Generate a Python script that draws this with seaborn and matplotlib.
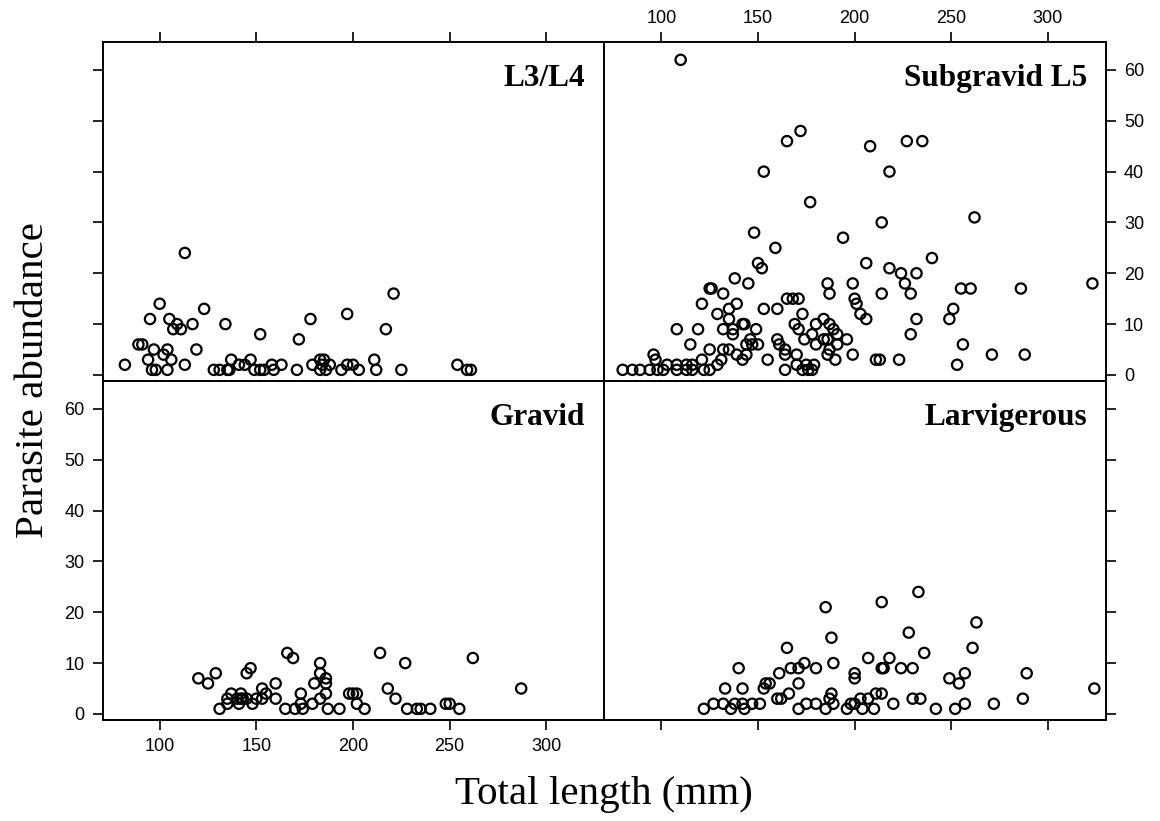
import matplotlib
matplotlib.use("Agg")
import matplotlib.pyplot as plt
import seaborn as sns
import pandas as pd

# ---------------- data ----------------
panels = ["L3/L4", "Subgravid L5", "Gravid", "Larvigerous"]

l34_length = [82, 113, 100, 95, 105, 109, 107, 111, 117, 123, 134, 152, 172, 178, 197, 89, 91, 97, 104, 102,
              119, 94, 106, 113, 96, 98, 104, 128, 131, 135, 136, 137, 141, 144, 147, 149, 152, 154, 158, 163,
              159, 171, 179, 183, 185, 184, 188, 183, 186, 194, 197, 200, 203, 221, 217, 211, 212, 225, 254, 259,
              261]
l34_abund = [2, 24, 14, 11, 11, 10, 9, 9, 10, 13, 10, 8, 7, 11, 12, 6, 6, 5, 5, 4,
             5, 3, 3, 2, 1, 1, 1, 1, 1, 1, 1, 3, 2, 2, 3, 1, 1, 1, 2, 2,
             1, 1, 2, 3, 3, 2, 2, 1, 1, 1, 2, 2, 1, 16, 9, 3, 1, 1, 2, 1,
             1]

sub_length = [110, 172, 165, 153, 177, 148, 159, 194, 150, 152, 138, 145, 125, 126, 132, 186, 187, 199, 121, 139,
              165, 168, 171, 200, 135, 129, 153, 160, 173, 135, 142, 143, 184, 180, 187, 169, 108, 119, 132, 137,
              149, 171, 189, 137, 178, 191, 146, 160, 174, 184, 186, 196, 115, 144, 147, 150, 161, 180, 191, 125,
              132, 135, 164, 187, 96, 139, 144, 164, 170, 186, 199, 97, 121, 131, 142, 155, 190, 103, 108, 113,
              116, 129, 170, 175, 179, 80, 85, 89, 94, 98, 101, 108, 113, 116, 122, 125, 164, 173, 176, 178,
              208, 227, 235, 218, 214, 262, 240, 206, 218, 224, 232, 226, 229, 214, 255, 260, 286, 323, 201, 203,
              206, 232, 251, 249, 229, 256, 211, 213, 223, 271, 288, 253]
sub_abund = [62, 48, 46, 40, 34, 28, 25, 27, 22, 21, 19, 18, 17, 17, 16, 18, 16, 18, 14, 14,
             15, 15, 15, 15, 13, 12, 13, 13, 12, 11, 10, 10, 11, 10, 10, 10, 9, 9, 9, 9,
             9, 9, 9, 8, 8, 8, 7, 7, 7, 7, 7, 7, 6, 6, 6, 6, 6, 6, 6, 5,
             5, 5, 5, 5, 4, 4, 4, 4, 4, 4, 4, 3, 3, 3, 3, 3, 3, 2, 2, 2,
             2, 2, 2, 2, 2, 1, 1, 1, 1, 1, 1, 1, 1, 1, 1, 1, 1, 1, 1, 1,
             45, 46, 46, 40, 30, 31, 23, 22, 21, 20, 20, 18, 16, 16, 17, 17, 17, 18, 14, 12,
             11, 11, 13, 11, 8, 6, 3, 3, 3, 4, 4, 2]

grav_length = [120, 125, 129, 131, 135, 135, 137, 140, 142, 143, 142, 141, 145, 145, 147, 148, 150, 153, 153, 155,
               160, 160, 166, 169, 165, 170, 174, 173, 173, 179, 180, 183, 183, 186, 186, 186, 183, 187, 193, 198,
               200, 202, 202, 206, 214, 218, 222, 227, 228, 233, 235, 240, 248, 250, 255, 262, 287]
grav_abund = [7, 6, 8, 1, 2, 3, 4, 3, 3, 3, 4, 2, 3, 8, 9, 2, 3, 3, 5, 4,
              3, 6, 12, 11, 1, 1, 1, 4, 2, 2, 6, 10, 8, 7, 6, 4, 3, 1, 1, 4,
              4, 4, 2, 1, 12, 5, 3, 10, 1, 1, 1, 1, 2, 2, 1, 11, 5]

larv_length = [122, 127, 132, 136, 138, 142, 147, 151, 143, 133, 140, 142, 153, 154, 156, 160, 162, 161, 165, 166,
               167, 171, 174, 171, 180, 171, 175, 180, 185, 188, 189, 188, 187, 189, 185, 196, 200, 200, 200, 198,
               203, 204, 207, 210, 211, 214, 207, 214, 215, 218, 214, 233, 228, 236, 224, 230, 220, 230, 234, 242,
               249, 254, 257, 252, 257, 263, 261, 272, 287, 289, 324]
larv_abund = [1, 2, 2, 1, 2, 2, 2, 2, 1, 5, 9, 5, 5, 6, 6, 3, 3, 8, 13, 4,
              9, 9, 10, 6, 9, 1, 2, 2, 21, 15, 10, 4, 3, 2, 1, 1, 2, 8, 7, 2,
              3, 1, 3, 1, 4, 4, 11, 9, 9, 11, 22, 24, 16, 12, 9, 9, 2, 3, 3, 1,
              7, 6, 8, 1, 2, 18, 13, 2, 3, 8, 5]

x_ticks = [100, 150, 200, 250, 300]
y_ticks = [0, 10, 20, 30, 40, 50, 60]
x_label = "Total length (mm)"
y_label = "Parasite abundance"

frames = []
for name, xs, ys in zip(panels,
                        [l34_length, sub_length, grav_length, larv_length],
                        [l34_abund, sub_abund, grav_abund, larv_abund]):
    frames.append(pd.DataFrame({"stage": name, "length": xs, "abundance": ys}))
df = pd.concat(frames, ignore_index=True)

# ---------------- figure ----------------
sns.set_style("white")
plt.rcParams["font.family"] = ["Liberation Sans", "DejaVu Sans"]
plt.rcParams["text.color"] = "black"

fig = plt.figure(figsize=(11.6, 8.21), dpi=100)
gs = fig.add_gridspec(2, 2, left=0.0885, right=0.9534, top=0.9488, bottom=0.123,
                      wspace=0, hspace=0)
axes = [fig.add_subplot(gs[0, 0]), fig.add_subplot(gs[0, 1]),
        fig.add_subplot(gs[1, 0]), fig.add_subplot(gs[1, 1])]

serif = ["Liberation Serif", "DejaVu Serif"]

for ax, name in zip(axes, panels):
    sub = df[df["stage"] == name]
    sns.scatterplot(data=sub, x="length", y="abundance", ax=ax, s=55, marker="o",
                    facecolors="none", edgecolors="black", linewidth=1.6, legend=False)
    ax.set_xlim(70.5, 330)
    ax.set_ylim(-1.2, 65.5)
    ax.set_xticks(x_ticks)
    ax.set_yticks(y_ticks)
    ax.set_xlabel("")
    ax.set_ylabel("")
    for sp in ax.spines.values():
        sp.set_visible(True)
        sp.set_color("black")
        sp.set_linewidth(1.4)
    ax.text(0.962, 0.935, name, transform=ax.transAxes, ha="right", va="top",
            fontsize=22.5, fontweight="bold", family=serif, color="black")
    ax.tick_params(axis="both", which="both", direction="out", length=7, width=1.2,
                   labelsize=13, colors="black", pad=6,
                   bottom=False, top=False, left=False, right=False,
                   labelbottom=False, labeltop=False, labelleft=False, labelright=False)

ax_tl, ax_tr, ax_bl, ax_br = axes
ax_tl.tick_params(top=True, left=True)
ax_tr.tick_params(axis="x", top=True, labeltop=True, pad=3.5)
ax_tr.tick_params(axis="y", right=True, labelright=True)
ax_bl.tick_params(axis="x", bottom=True, labelbottom=True, pad=6)
ax_bl.tick_params(axis="y", left=True, labelleft=True)
ax_br.tick_params(bottom=True, right=True)

fig.text(0.029, 0.537, y_label, rotation=90, ha="center", va="center",
         fontsize=29.5, family=serif, color="black")
fig.text(0.521, 0.032, x_label, ha="center", va="center",
         fontsize=29.5, family=serif, color="black")

fig.savefig("out.png", dpi=100, facecolor="white")
